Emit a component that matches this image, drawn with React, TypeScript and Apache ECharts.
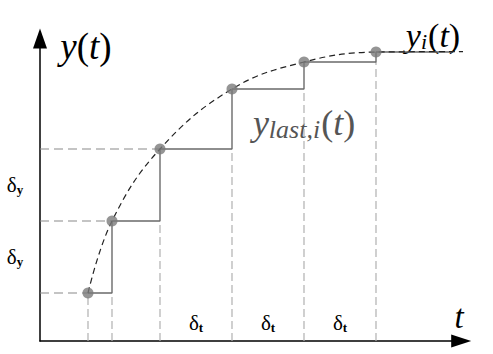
import React, { useEffect, useRef } from "react";
import * as echarts from "echarts";

// sample instants and held (last) values
const sampleTimes = [2, 3, 5, 8, 11, 14];
const sampleValues = [2, 5, 8, 10.5, 11.625, 12.04];
const holdEndTime = 17.2;
// continuous signal y_i(t)
const curveTimes = [2, 3, 5, 8, 11, 14, 18];
const curveValues = [2, 5, 8, 10.5, 11.625, 12.04, 12.06];
// number of levels with a guide back to the y axis
const guideCount = 3;
// delta annotations (centres of the intervals)
const deltaTCentres = [6.5, 9.5, 12.5];
const deltaYCentres = [3.5, 6.5];
const deltaTText = "{d|δ}{s|t}";
const deltaYText = "{d|δ}{s|y}";
const yAxisTitle = "{i|y}{n|(}{i|t}{n|)}";
const xAxisTitle = "t";
const curveTitle = "{i|y}{sub|i}{n|(}{i|t}{n|)}";
const holdTitle = "{i|y}{sub|last,i}{n|(}{i|t}{n|)}";

const serif = "Liberation Serif";

export default function App() {
  const ref = useRef<HTMLDivElement>(null);
  useEffect(() => {
    if (!ref.current) return;
    const chart = echarts.init(ref.current, undefined, { renderer: "svg" });

    const holdData = sampleTimes.map((t, i) => [t, sampleValues[i]]);
    holdData.push([holdEndTime, sampleValues[sampleValues.length - 1]]);

    const verticalGuides = sampleTimes.map((t, i) => ({
      type: "line",
      data: [
        [t, 0],
        [t, i === 0 ? sampleValues[0] : sampleValues[i - 1]],
      ],
      showSymbol: false,
      silent: true,
      lineStyle: { color: "#b0b0b0", width: 1.2, type: [8, 4] },
      z: 1,
    }));
    const horizontalGuides = sampleTimes.slice(0, guideCount).map((t, i) => ({
      type: "line",
      data: [
        [0, sampleValues[i]],
        [t, sampleValues[i]],
      ],
      showSymbol: false,
      silent: true,
      lineStyle: { color: "#8a8a8a", width: 1.2, type: [9, 5] },
      z: 1,
    }));

    const titleGraphics: any[] = [
      {
        type: "text",
        x: 86,
        y: 46,
        style: {
          text: yAxisTitle,
          align: "center",
          verticalAlign: "middle",
          rich: {
            i: { fontFamily: serif, fontStyle: "italic", fontSize: 37, fill: "#000" },
            n: { fontFamily: serif, fontSize: 37, fill: "#000" },
          },
        },
      },
      {
        type: "text",
        x: 459,
        y: 317,
        style: {
          text: xAxisTitle,
          align: "center",
          verticalAlign: "middle",
          fontFamily: serif,
          fontStyle: "italic",
          fontSize: 33,
          fill: "#000",
        },
      },
      {
        type: "text",
        x: 433,
        y: 35,
        style: {
          text: curveTitle,
          align: "center",
          verticalAlign: "middle",
          rich: {
            i: { fontFamily: serif, fontStyle: "italic", fontSize: 34, fill: "#000" },
            sub: { fontFamily: serif, fontStyle: "italic", fontSize: 22, fill: "#000", padding: [13, 1, 0, 0] },
            n: { fontFamily: serif, fontSize: 34, fill: "#000" },
          },
        },
      },
      {
        type: "text",
        x: 304,
        y: 123,
        style: {
          text: holdTitle,
          align: "center",
          verticalAlign: "middle",
          rich: {
            i: { fontFamily: serif, fontStyle: "italic", fontSize: 36, fill: "#555" },
            sub: { fontFamily: serif, fontStyle: "italic", fontSize: 26, fill: "#555", padding: [13, 1, 0, 0] },
            n: { fontFamily: serif, fontSize: 36, fill: "#555" },
          },
        },
      },
    ];

    const option: any = {
      animation: false,
      backgroundColor: "#ffffff",
      grid: { left: 40, right: 31.8, top: 38.6, bottom: 13 },
      xAxis: {
        type: "value",
        min: 0,
        max: 17.55,
        axisLine: {
          show: true,
          onZero: false,
          symbol: ["none", "triangle"],
          symbolSize: [13, 20],
          lineStyle: { color: "#000", width: 1.5 },
        },
        axisTick: { show: false },
        axisLabel: { show: false },
        splitLine: { show: false },
      },
      yAxis: {
        type: "value",
        min: 0,
        max: 12.6,
        axisLine: {
          show: true,
          onZero: false,
          symbol: ["none", "triangle"],
          symbolSize: [14, 20],
          lineStyle: { color: "#000", width: 1.5 },
        },
        axisTick: { show: false },
        axisLabel: { show: false },
        splitLine: { show: false },
      },
      series: [
        ...verticalGuides,
        ...horizontalGuides,
        {
          type: "line",
          data: holdData,
          step: "end",
          showSymbol: false,
          silent: true,
          lineStyle: { color: "#6a6a6a", width: 1.4 },
          z: 2,
        },
        {
          type: "line",
          data: curveTimes.map((t, i) => [t, curveValues[i]]),
          smooth: 0.4,
          showSymbol: false,
          clip: false,
          silent: true,
          lineStyle: { color: "#222", width: 1.2, type: [6, 4] },
          z: 3,
        },
        {
          type: "scatter",
          data: sampleTimes.map((t, i) => [t, sampleValues[i]]),
          symbolSize: 11,
          itemStyle: { color: "#7a7a7a" },
          silent: true,
          z: 4,
        },
      ],
      graphic: titleGraphics,
    };
    chart.setOption(option);

    // delta annotations placed through the axes' own scales
    const deltaRich = {
      d: { fontFamily: serif, fontSize: 21, fill: "#000" },
      s: { fontFamily: serif, fontSize: 13, fontWeight: "bold", fill: "#000", padding: [9, 0, 0, 0] },
    };
    const deltaGraphics: any[] = [];
    deltaTCentres.forEach((t) => {
      const p = chart.convertToPixel({ gridIndex: 0 }, [t, 0]) as number[];
      deltaGraphics.push({
        type: "text",
        x: p[0],
        y: p[1] - 18,
        style: { text: deltaTText, align: "center", verticalAlign: "middle", rich: deltaRich },
      });
    });
    deltaYCentres.forEach((v) => {
      const p = chart.convertToPixel({ gridIndex: 0 }, [0, v]) as number[];
      deltaGraphics.push({
        type: "text",
        x: p[0] - 25,
        y: p[1],
        style: { text: deltaYText, align: "center", verticalAlign: "middle", rich: deltaRich },
      });
    });
    chart.setOption({ graphic: [...titleGraphics, ...deltaGraphics] });

    return () => chart.dispose();
  }, []);
  return (
    <div
      ref={ref}
      style={{ position: "fixed", left: 0, top: 0, width: 493, height: 354, background: "#fff" }}
    />
  );
}
